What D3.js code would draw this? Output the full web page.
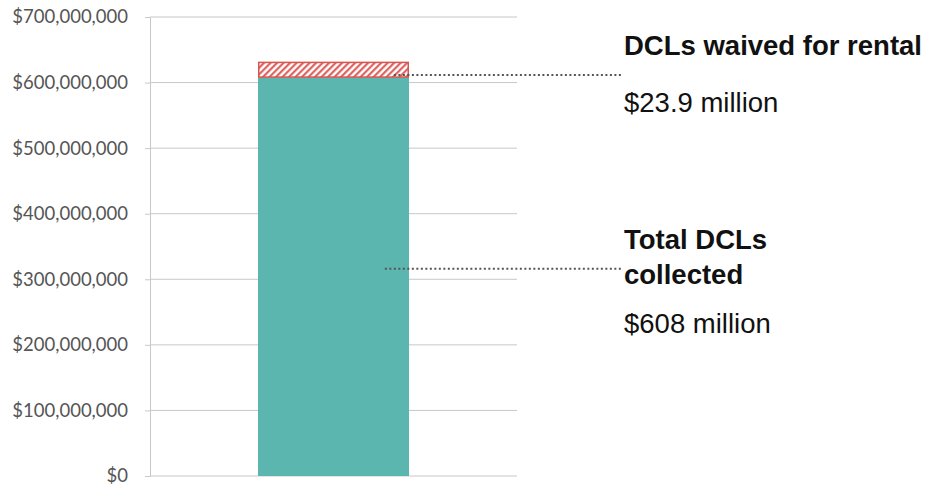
<!DOCTYPE html>
<html>
<head>
<meta charset="utf-8">
<script src="https://cdn.jsdelivr.net/npm/d3@7"></script>
<style>
  body { margin: 0; background: #fff; }
  .tick text { font-family: Lato, "Open Sans", sans-serif; }
  .note { font-family: "Liberation Sans", Arial, sans-serif; fill: #111; }
</style>
</head>
<body>
<div id="chart"></div>
<script>
// Chart data
const categories = ["DCLs"];
const collected = [608000000];
const waived = [23900000];
const yTicks = [0, 100000000, 200000000, 300000000, 400000000, 500000000, 600000000, 700000000];

const W = 933, H = 487;
const MARGIN = {LEFT: 150, RIGHT: 416, TOP: 17, BOTTOM: 11};

const svg = d3.select("#chart").append("svg")
  .attr("width", W)
  .attr("height", H);

// hatch for the waived part
const defs = svg.append("defs");
const pat = defs.append("pattern")
  .attr("id", "hatch")
  .attr("patternUnits", "userSpaceOnUse")
  .attr("width", 4.6)
  .attr("height", 4.6)
  .attr("patternTransform", "rotate(45)");
pat.append("rect").attr("width", 4.6).attr("height", 4.6).attr("fill", "#fff");
pat.append("line")
  .attr("x1", 1.2).attr("y1", 0).attr("x2", 1.2).attr("y2", 4.6)
  .attr("stroke", "#d9534f").attr("stroke-width", 2);

const y = d3.scaleLinear()
  .domain([0, 700000000])
  .range([H - MARGIN.BOTTOM, MARGIN.TOP]);

const x = d3.scaleBand()
  .domain(categories)
  .range([MARGIN.LEFT, W - MARGIN.RIGHT])
  .padding(0.417);

// gridlines + left axis
const yAxis = svg.append("g")
  .attr("transform", "translate(" + MARGIN.LEFT + ",0)")
  .call(d3.axisLeft(y)
    .tickValues(yTicks)
    .tickSize(5)
    .tickPadding(17)
    .tickFormat(d => "$" + d3.format(",")(d)));
yAxis.select(".domain").attr("stroke", "#c8c8c8");
yAxis.selectAll(".tick line").attr("stroke", "#c8c8c8");
yAxis.selectAll(".tick text")
  .attr("fill", "#555")
  .attr("font-size", 18.5);

svg.append("g")
  .selectAll("line")
  .data(yTicks)
  .enter()
  .append("line")
  .attr("x1", MARGIN.LEFT)
  .attr("x2", W - MARGIN.RIGHT)
  .attr("y1", d => y(d))
  .attr("y2", d => y(d))
  .attr("stroke", "#c8c8c8")
  .attr("stroke-width", 1);

// bars
svg.selectAll(".collected")
  .data(categories)
  .enter()
  .append("rect")
  .attr("class", "collected")
  .attr("x", d => x(d))
  .attr("width", x.bandwidth())
  .attr("y", (d, i) => y(collected[i]))
  .attr("height", (d, i) => y(0) - y(collected[i]))
  .attr("fill", "#5bb6b0");

svg.selectAll(".waived")
  .data(categories)
  .enter()
  .append("rect")
  .attr("class", "waived")
  .attr("x", d => x(d) + 0.75)
  .attr("width", x.bandwidth() - 1.5)
  .attr("y", (d, i) => y(collected[i] + waived[i]) + 0.75)
  .attr("height", (d, i) => y(collected[i]) - y(collected[i] + waived[i]) - 1)
  .attr("fill", "url(#hatch)")
  .attr("stroke", "#d9534f")
  .attr("stroke-width", 1.5);

// leader lines
const xb = x(categories[0]);
const bw = x.bandwidth();
const topLeaderY = y(collected[0] + waived[0] * 0.15);
const midLeaderY = y(collected[0] * 0.52);
const labelX = 624;

[[xb + bw * 0.9, topLeaderY], [xb + bw * 0.84, midLeaderY]].forEach(p => {
  svg.append("line")
    .attr("x1", p[0]).attr("x2", labelX - 2)
    .attr("y1", p[1]).attr("y2", p[1])
    .attr("stroke", "#555")
    .attr("stroke-width", 2)
    .attr("stroke-dasharray", "2 2.5");
});

// annotations
const notes = [
  {t: "DCLs waived for rental", y: 55, b: true},
  {t: "$" + d3.format(".1f")(waived[0] / 1e6) + " million", y: 112, b: false},
  {t: "Total DCLs", y: 249, b: true},
  {t: "collected", y: 284, b: true},
  {t: "$" + d3.format(".0f")(collected[0] / 1e6) + " million", y: 333, b: false}
];
svg.selectAll(".note")
  .data(notes)
  .enter()
  .append("text")
  .attr("class", "note")
  .attr("x", labelX)
  .attr("y", d => d.y)
  .attr("font-size", 27.5)
  .attr("font-weight", d => d.b ? "bold" : "normal")
  .text(d => d.t);
</script>
</body>
</html>
